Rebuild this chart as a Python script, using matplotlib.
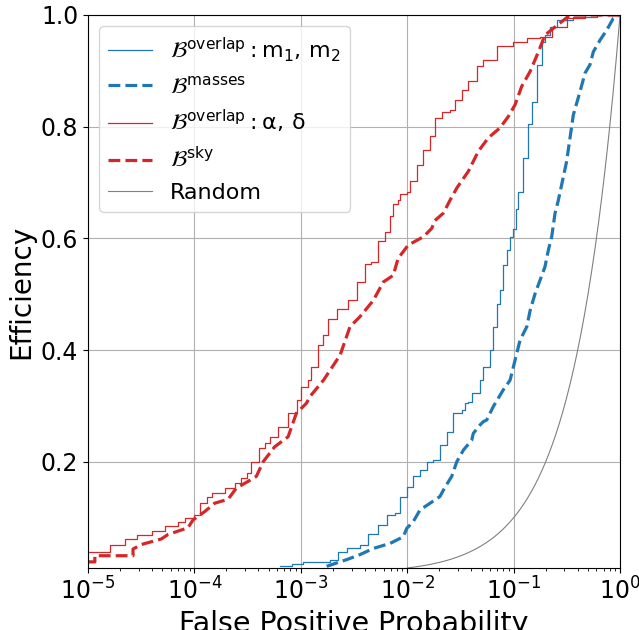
import numpy as np
import matplotlib.pyplot as plt

# ROC points (false positive probability, efficiency)
fpp_m12 = [6.38e-4, 8.2e-4, 1.05e-3, 1.88e-3, 2.25e-3, 2.7e-3, 3.6e-3, 4.31e-3, 5.35e-3,
           6.42e-3, 7.68e-3, 8.55e-3, 9.9e-3, 1.14e-2, 1.32e-2, 1.52e-2, 1.76e-2, 2.03e-2,
           2.35e-2, 2.71e-2, 3.25e-2, 3.49e-2, 3.75e-2, 4.04e-2, 4.83e-2, 5.19e-2, 6.0e-2,
           6.44e-2, 6.93e-2, 7.45e-2, 8.0e-2, 8.6e-2, 9.25e-2, 9.9e-2, 0.105, 0.111, 0.123,
           0.137, 0.148, 0.165, 0.184, 0.197, 0.22, 0.254, 0.364, 0.604, 1.0]
eff_m12 = [0.013, 0.017, 0.020, 0.025, 0.038, 0.045, 0.052, 0.070, 0.087,
           0.105, 0.108, 0.138, 0.155, 0.174, 0.186, 0.200, 0.204, 0.230,
           0.254, 0.287, 0.293, 0.305, 0.308, 0.323, 0.346, 0.370, 0.400,
           0.442, 0.483, 0.507, 0.552, 0.579, 0.603, 0.616, 0.652, 0.684, 0.744,
           0.804, 0.845, 0.911, 0.952, 0.964, 0.979, 0.991, 0.997, 1.0, 1.0]

fpp_masses = [1.75e-3, 2.17e-3, 2.7e-3, 3.6e-3, 4.8e-3, 6.9e-3, 9.2e-3, 9.9e-3, 1.14e-2,
              1.32e-2, 1.64e-2, 2.03e-2, 2.27e-2, 2.62e-2, 2.92e-2, 3.37e-2, 4.04e-2,
              4.18e-2, 4.83e-2, 5.19e-2, 5.59e-2, 6.44e-2, 8.0e-2, 9.25e-2, 9.6e-2, 0.105,
              0.115, 0.133, 0.143, 0.159, 0.177, 0.197, 0.212, 0.228, 0.245, 0.263, 0.315,
              0.364, 0.421, 0.469, 0.522, 0.561, 0.649, 0.75, 0.865, 1.0]
eff_masses = [0.013, 0.019, 0.025, 0.034, 0.045, 0.054, 0.066, 0.081, 0.093,
              0.114, 0.126, 0.138, 0.155, 0.174, 0.200, 0.221, 0.239,
              0.251, 0.266, 0.272, 0.275, 0.299, 0.329, 0.346, 0.358, 0.388,
              0.418, 0.442, 0.471, 0.501, 0.525, 0.549, 0.579, 0.603, 0.645, 0.668, 0.738,
              0.821, 0.863, 0.896, 0.911, 0.934, 0.955, 0.973, 0.994, 1.0]

fpp_sky_ov = [1.0e-5, 1.61e-5, 2.21e-5, 2.89e-5, 4.0e-5, 5.26e-5, 7.0e-5, 8.1e-5, 9.9e-5,
              1.12e-4, 1.31e-4, 1.46e-4, 1.93e-4, 2.39e-4, 2.76e-4, 3.14e-4, 3.43e-4,
              4.02e-4, 4.58e-4, 5.1e-4, 6.1e-4, 7.6e-4, 9.3e-4, 1.01e-3, 1.17e-3, 1.26e-3,
              1.46e-3, 1.63e-3, 1.81e-3, 2.2e-3, 2.79e-3, 3.35e-3, 4.0e-3, 4.54e-3, 5.35e-3,
              6.2e-3, 6.9e-3, 7.4e-3, 8.2e-3, 8.55e-3, 9.9e-3, 1.06e-2, 1.23e-2, 1.42e-2,
              1.64e-2, 1.82e-2, 2.11e-2, 2.52e-2, 2.81e-2, 3.25e-2, 3.75e-2, 4.5e-2, 5.19e-2,
              6.93e-2, 9.9e-2, 0.133, 0.177, 0.228, 0.315, 0.469, 1.0]
eff_sky_ov = [0.038, 0.052, 0.062, 0.069, 0.076, 0.086, 0.092, 0.100, 0.104,
              0.126, 0.138, 0.144, 0.154, 0.162, 0.171, 0.180, 0.200,
              0.224, 0.233, 0.245, 0.263, 0.287, 0.311, 0.334, 0.346, 0.370,
              0.409, 0.427, 0.456, 0.473, 0.489, 0.522, 0.555, 0.557, 0.596,
              0.611, 0.640, 0.661, 0.668, 0.679, 0.684, 0.702, 0.732, 0.759,
              0.783, 0.815, 0.827, 0.830, 0.848, 0.866, 0.881, 0.908, 0.920,
              0.944, 0.952, 0.958, 0.961, 0.979, 0.995, 1.0, 1.0]

fpp_sky = [1.0e-5, 1.16e-5, 1.16e-5, 2.65e-5, 2.65e-5, 3.17e-5, 4.89e-5, 5.65e-5, 8.7e-5,
           9.7e-5, 1.25e-4, 1.55e-4, 2.07e-4, 2.48e-4, 3.19e-4, 3.82e-4, 4.42e-4, 5.68e-4,
           7.6e-4, 9.08e-4, 1.13e-3, 1.22e-3, 1.63e-3, 2.34e-3, 2.9e-3, 3.6e-3, 4.8e-3,
           5.96e-3, 7.4e-3, 8.2e-3, 1.02e-2, 1.42e-2, 1.7e-2, 1.82e-2, 2.18e-2, 2.52e-2,
           2.92e-2, 3.75e-2, 4.66e-2, 5.78e-2, 7.45e-2, 8.9e-2, 0.103, 0.119, 0.143, 0.171,
           0.197, 0.236, 0.339, 1.0]
eff_sky = [0.021, 0.021, 0.032, 0.032, 0.044, 0.052, 0.062, 0.070, 0.082,
           0.096, 0.111, 0.126, 0.133, 0.153, 0.165, 0.174, 0.200, 0.227,
           0.245, 0.287, 0.305, 0.317, 0.346, 0.391, 0.442, 0.460, 0.489,
           0.522, 0.534, 0.564, 0.588, 0.603, 0.618, 0.632, 0.645, 0.668,
           0.690, 0.720, 0.756, 0.780, 0.798, 0.818, 0.839, 0.872, 0.899, 0.934,
           0.964, 0.976, 1.0, 1.0]

fig = plt.figure(figsize=(6.39, 6.30), dpi=100)
ax = fig.add_axes([0.1377, 0.0984, 0.8326, 0.8778])

ax.plot(fpp_m12, eff_m12, color='tab:blue', lw=0.9, drawstyle='steps-post',
        label=r'$\mathcal{B}^{\rm overlap}: \mathrm{m_1,\, m_2}$')
ax.plot(fpp_masses, eff_masses, color='tab:blue', lw=2.3, ls='--',
        label=r'$\mathcal{B}^{\rm masses}$')
ax.plot(fpp_sky_ov, eff_sky_ov, color='tab:red', lw=0.9, drawstyle='steps-post',
        label=r'$\mathcal{B}^{\rm overlap}: \mathrm{\alpha,\, \delta}$')
ax.plot(fpp_sky, eff_sky, color='tab:red', lw=2.3, ls='--',
        label=r'$\mathcal{B}^{\rm sky}$')

# random classifier: efficiency equals false positive probability
x_rand = np.logspace(-2, 0, 300)
ax.plot(x_rand, x_rand, color='gray', lw=0.8, label='Random')

ax.set_xscale('log')
ax.set_xlim(1e-5, 1)
ax.set_ylim(0.01, 1)
ax.set_yticks([0.2, 0.4, 0.6, 0.8, 1.0])
ax.grid(True, which='major', color='#b0b0b0', lw=0.8)
ax.tick_params(labelsize=17)
ax.set_xlabel('False Positive Probability', fontsize=20.5)
ax.set_ylabel('Efficiency', fontsize=20)
ax.legend(loc='upper left', fontsize=16)

fig.savefig('out.png', dpi=100)
